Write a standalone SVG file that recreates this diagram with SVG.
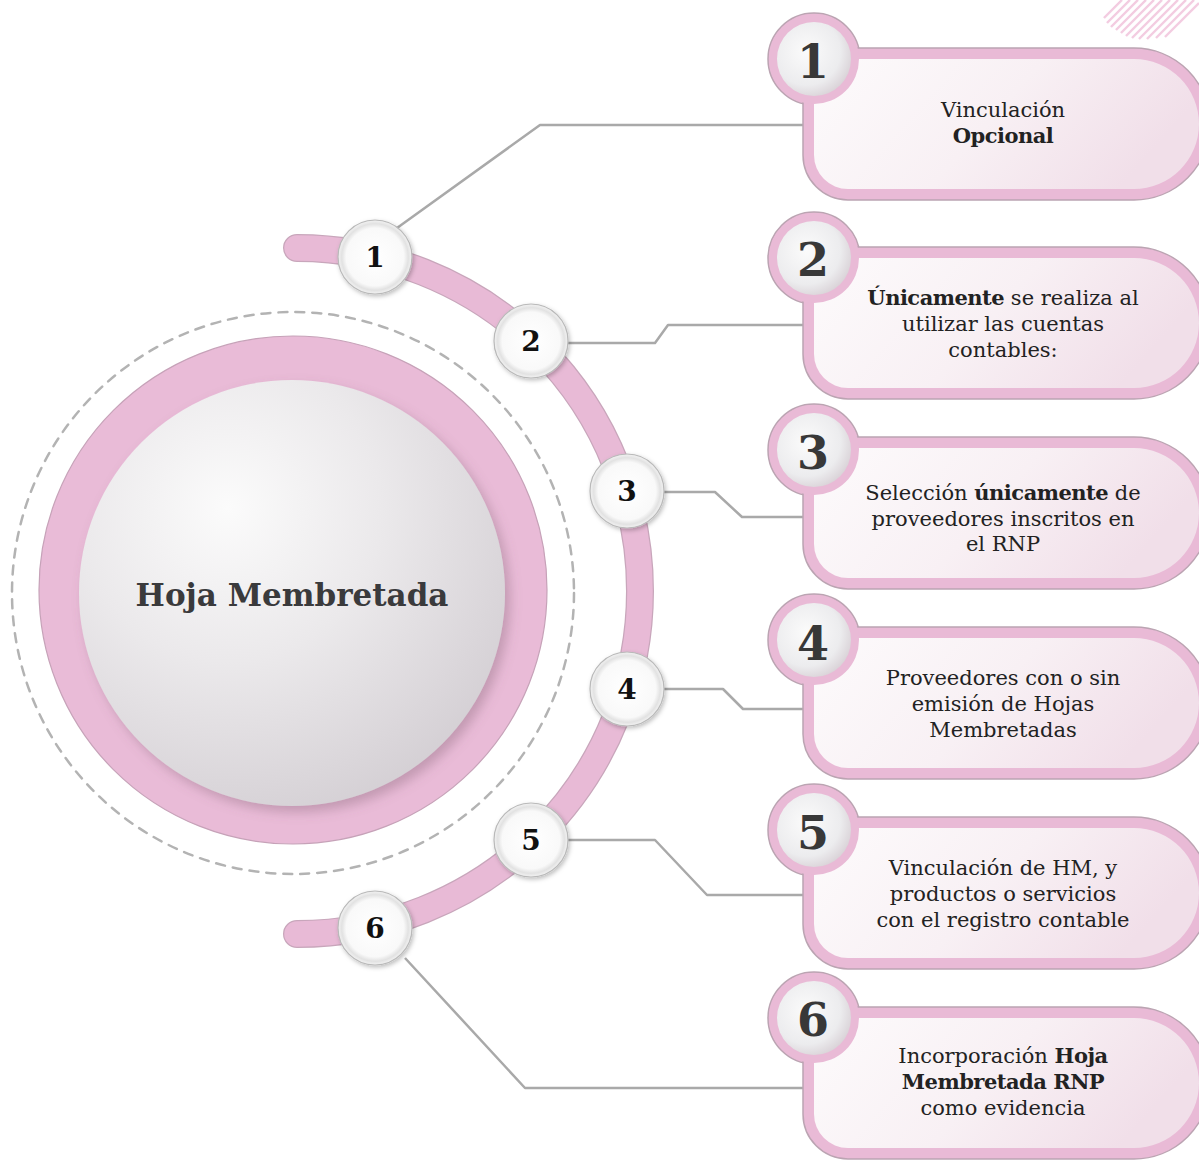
<svg xmlns="http://www.w3.org/2000/svg" xmlns:xlink="http://www.w3.org/1999/xlink" width="1199" height="1162" viewBox="0 0 1199 1162">
<style>
.conn{fill:none;stroke:#a9a9a9;stroke-width:2.5;stroke-linejoin:round}
.ctext{font-family:"DejaVu Serif","Liberation Serif",serif;font-size:21px;fill:#222;text-anchor:middle}
.b{font-weight:bold;letter-spacing:-0.5px}
.snum{font-family:"DejaVu Serif","Liberation Serif",serif;font-size:28px;font-weight:bold;fill:#111;text-anchor:middle}
.bnum{font-family:"DejaVu Serif","Liberation Serif",serif;font-size:46px;font-weight:bold;fill:#383838;text-anchor:middle}
.cardOut{fill:#e9bad6;stroke:#bba4b2;stroke-width:1.5}
.cardIn{fill:url(#gCard)}
.badgeOut{fill:#e9bad6;stroke:#bba4b2;stroke-width:1.5}
.badgePink{fill:#e9bad6}
.badgeIn{fill:url(#gBadge)}
.small{fill:url(#gSmall);stroke:#b9b9b9;stroke-width:1.2;filter:url(#shSmall)}
</style>
<defs>
<linearGradient id="gCard" x1="0" y1="0" x2="1" y2="0.3">
<stop offset="0" stop-color="#fdfbfc"/>
<stop offset="0.55" stop-color="#f8f0f4"/>
<stop offset="1" stop-color="#f1dfe9"/>
</linearGradient>
<radialGradient id="gBadge" cx="0.4" cy="0.4" r="0.65">
<stop offset="0" stop-color="#fbfbfb"/>
<stop offset="0.7" stop-color="#ececee"/>
<stop offset="1" stop-color="#d9d2d7"/>
</radialGradient>
<radialGradient id="gSmall" cx="0.5" cy="0.5" r="0.5">
<stop offset="0" stop-color="#ffffff"/>
<stop offset="0.78" stop-color="#f9f9f9"/>
<stop offset="0.9" stop-color="#e2e2e2"/>
<stop offset="1" stop-color="#f3f3f3"/>
</radialGradient>
<radialGradient id="gMain" cx="0.35" cy="0.3" r="0.8">
<stop offset="0" stop-color="#fbfbfb"/>
<stop offset="0.45" stop-color="#ebe9eb"/>
<stop offset="1" stop-color="#d2cdd2"/>
</radialGradient>
<filter id="shSmall" x="-30%" y="-30%" width="160%" height="160%">
<feDropShadow dx="1.5" dy="2" stdDeviation="2" flood-color="#000" flood-opacity="0.25"/>
</filter>
<filter id="shMain" x="-20%" y="-20%" width="140%" height="140%">
<feDropShadow dx="5" dy="6" stdDeviation="6" flood-color="#7a5a6c" flood-opacity="0.35"/>
</filter>
<path id="cOut" d="M848 0 H1134 A76 76 0 0 1 1134 152 H848 A45 45 0 0 1 803 107 V45 A45 45 0 0 1 848 0 Z"/>
<path id="cIn" d="M848 11 H1134 A65 65 0 0 1 1134 141 H848 A34 34 0 0 1 814 107 V45 A34 34 0 0 1 848 11 Z"/>
<linearGradient id="gHatch" x1="0" y1="0" x2="1" y2="1">
<stop offset="0" stop-color="#e07fb4" stop-opacity="1"/>
<stop offset="1" stop-color="#f2c6dc" stop-opacity="0.3"/>
</linearGradient>
</defs>

<rect width="1199" height="1162" fill="#ffffff"/>

<g id="hatch" stroke="url(#gHatch)" stroke-width="2.4" fill="none" opacity="0.85">
<line x1="1122" y1="0" x2="1104" y2="18"/>
<line x1="1130" y1="0" x2="1107" y2="23"/>
<line x1="1138" y1="0" x2="1111" y2="27"/>
<line x1="1146" y1="0" x2="1116" y2="30"/>
<line x1="1154" y1="0" x2="1121" y2="33"/>
<line x1="1162" y1="0" x2="1126" y2="36"/>
<line x1="1170" y1="0" x2="1132" y2="38"/>
<line x1="1178" y1="0" x2="1139" y2="39"/>
<line x1="1186" y1="0" x2="1147" y2="39"/>
<line x1="1194" y1="0" x2="1156" y2="38"/>
<line x1="1199" y1="3" x2="1165" y2="37"/>
</g>

<g id="hub">
<circle cx="293" cy="593" r="281" fill="none" stroke="#b3b3b3" stroke-width="2.5" stroke-dasharray="9 8" stroke-linecap="round"/>
<circle cx="293" cy="590" r="254" fill="#e9bbd7" stroke="#c6a2b8" stroke-width="1.2"/>
<circle cx="292" cy="593" r="213" fill="url(#gMain)" filter="url(#shMain)"/>
<text x="292" y="606" font-family="DejaVu Serif, Liberation Serif, serif" font-size="31" font-weight="bold" fill="#3a3a3c" text-anchor="middle">Hoja Membretada</text>
</g>

<g id="arc">
<path d="M297 248 A343 343 0 0 1 297 934" fill="none" stroke="#c8a6bb" stroke-width="28" stroke-linecap="round"/>
<path d="M297 248 A343 343 0 0 1 297 934" fill="none" stroke="#e8bad6" stroke-width="25.5" stroke-linecap="round"/>
</g>

<g id="connectors">
<path class="conn" d="M397 228 L540 125 L805 125"/>
<path class="conn" d="M568 343 L655 343 L668 325 L805 325"/>
<path class="conn" d="M664 492 L715 492 L742 517 L805 517"/>
<path class="conn" d="M664 689 L723 689 L743 709 L805 709"/>
<path class="conn" d="M568 840 L655 840 L707 895 L805 895"/>
<path class="conn" d="M405 958 L525 1088 L805 1088"/>
</g>

<g id="step1"><circle class="small" cx="375" cy="257" r="37"/><text class="snum" x="375" y="267">1</text></g>
<g id="step2"><circle class="small" cx="531" cy="341" r="37"/><text class="snum" x="531" y="351">2</text></g>
<g id="step3"><circle class="small" cx="627" cy="491" r="37"/><text class="snum" x="627" y="501">3</text></g>
<g id="step4"><circle class="small" cx="627" cy="689" r="37"/><text class="snum" x="627" y="699">4</text></g>
<g id="step5"><circle class="small" cx="531" cy="840" r="37"/><text class="snum" x="531" y="850">5</text></g>
<g id="step6"><circle class="small" cx="375" cy="928" r="37"/><text class="snum" x="375" y="938">6</text></g>

<g id="card1">
<circle class="badgeOut" cx="814" cy="59" r="46"/>
<use href="#cOut" class="cardOut" y="48"/>
<use href="#cIn" class="cardIn" y="48"/>
<circle class="badgePink" cx="814" cy="59" r="45"/>
<circle class="badgeIn" cx="814" cy="59" r="37"/>
<text class="bnum" x="813" y="78">1</text>
<text class="ctext" x="1003" y="117">Vinculación</text>
<text class="ctext b" x="1003" y="143">Opcional</text>
</g>

<g id="card2">
<circle class="badgeOut" cx="814" cy="258" r="46"/>
<use href="#cOut" class="cardOut" y="247"/>
<use href="#cIn" class="cardIn" y="247"/>
<circle class="badgePink" cx="814" cy="258" r="45"/>
<circle class="badgeIn" cx="814" cy="258" r="37"/>
<text class="bnum" x="813" y="276">2</text>
<text class="ctext" x="1003" y="305"><tspan class="b">Únicamente</tspan> se realiza al</text>
<text class="ctext" x="1003" y="331">utilizar las cuentas</text>
<text class="ctext" x="1003" y="357">contables:</text>
</g>

<g id="card3">
<circle class="badgeOut" cx="814" cy="450" r="46"/>
<use href="#cOut" class="cardOut" y="437"/>
<use href="#cIn" class="cardIn" y="437"/>
<circle class="badgePink" cx="814" cy="450" r="45"/>
<circle class="badgeIn" cx="814" cy="450" r="37"/>
<text class="bnum" x="813" y="469">3</text>
<text class="ctext" x="1003" y="500">Selección <tspan class="b">únicamente</tspan> de</text>
<text class="ctext" x="1003" y="526">proveedores inscritos en</text>
<text class="ctext" x="1003" y="551">el RNP</text>
</g>

<g id="card4">
<circle class="badgeOut" cx="814" cy="640" r="46"/>
<use href="#cOut" class="cardOut" y="627"/>
<use href="#cIn" class="cardIn" y="627"/>
<circle class="badgePink" cx="814" cy="640" r="45"/>
<circle class="badgeIn" cx="814" cy="640" r="37"/>
<text class="bnum" x="813" y="660">4</text>
<text class="ctext" x="1003" y="685">Proveedores con o sin</text>
<text class="ctext" x="1003" y="711">emisión de Hojas</text>
<text class="ctext" x="1003" y="737">Membretadas</text>
</g>

<g id="card5">
<circle class="badgeOut" cx="814" cy="830" r="46"/>
<use href="#cOut" class="cardOut" y="817"/>
<use href="#cIn" class="cardIn" y="817"/>
<circle class="badgePink" cx="814" cy="830" r="45"/>
<circle class="badgeIn" cx="814" cy="830" r="37"/>
<text class="bnum" x="813" y="849">5</text>
<text class="ctext" x="1003" y="875">Vinculación de HM, y</text>
<text class="ctext" x="1003" y="901">productos o servicios</text>
<text class="ctext" x="1003" y="927">con el registro contable</text>
</g>

<g id="card6">
<circle class="badgeOut" cx="814" cy="1018" r="46"/>
<use href="#cOut" class="cardOut" y="1007"/>
<use href="#cIn" class="cardIn" y="1007"/>
<circle class="badgePink" cx="814" cy="1018" r="45"/>
<circle class="badgeIn" cx="814" cy="1018" r="37"/>
<text class="bnum" x="813" y="1036">6</text>
<text class="ctext" x="1003" y="1063">Incorporación <tspan class="b">Hoja</tspan></text>
<text class="ctext b" x="1003" y="1089">Membretada RNP</text>
<text class="ctext" x="1003" y="1115">como evidencia</text>
</g>
</svg>
